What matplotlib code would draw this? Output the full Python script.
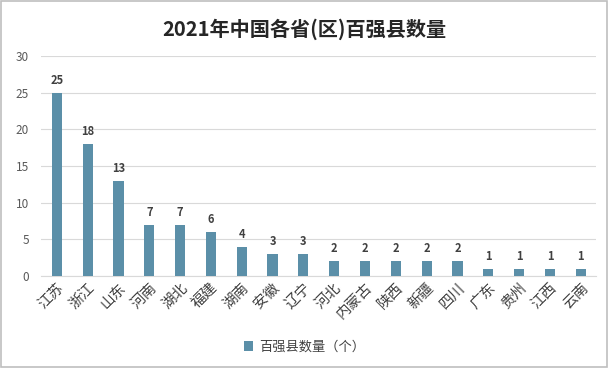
import matplotlib.pyplot as plt
from matplotlib.patches import Rectangle

plt.rcParams['font.family'] = ['Noto Sans CJK SC', 'DejaVu Sans']

provinces = ['江苏', '浙江', '山东', '河南', '湖北', '福建', '湖南', '安徽', '辽宁', '河北',
             '内蒙古', '陕西', '新疆', '四川', '广东', '贵州', '江西', '云南']
counts = [25, 18, 13, 7, 7, 6, 4, 3, 3, 2, 2, 2, 2, 2, 1, 1, 1, 1]
yticks = [0, 5, 10, 15, 20, 25, 30]

bar_color = '#5B8FA8'

fig = plt.figure(figsize=(6.09, 3.68), dpi=100)
ax = fig.add_axes([0.068, 0.25, 0.911, 0.598])

x = range(len(provinces))
ax.bar(x, counts, width=0.33, color=bar_color, zorder=3, label='百强县数量（个）')

for xi, v in zip(x, counts):
    ax.text(xi, v + 0.8, str(v), ha='center', va='bottom', fontsize=8,
            fontweight='bold', color='#404040')

ax.set_xlim(-0.5, len(provinces) - 0.5)
ax.set_ylim(0, 30)
ax.set_yticks(yticks)
ax.grid(axis='y', color='#D9D9D9', linewidth=0.8, zorder=0)
for s in ['top', 'right', 'left']:
    ax.spines[s].set_visible(False)
ax.spines['bottom'].set_color('#D9D9D9')
ax.tick_params(axis='both', length=0, colors='#595959', labelsize=8.5)
ax.tick_params(axis='y', pad=9)
ax.set_xticks(list(x))
ax.set_xticklabels(provinces, rotation=45, ha='right', rotation_mode='anchor',
                   fontsize=10.5, color='#404040')

fig.suptitle('2021年中国各省(区)百强县数量', y=0.95, fontsize=14.5,
             fontweight='bold', color='#262626')

leg = fig.legend(loc='center', bbox_to_anchor=(0.5, 0.057), frameon=False,
                 fontsize=9.5, handlelength=0.7, handleheight=0.7, handletextpad=0.4)
for t in leg.get_texts():
    t.set_color('#404040')

fig.patches.append(Rectangle((0.002, 0.003), 0.995, 0.993, transform=fig.transFigure,
                             fill=False, edgecolor='#BFBFBF', linewidth=1.2))

plt.savefig('out.png', dpi=100)
